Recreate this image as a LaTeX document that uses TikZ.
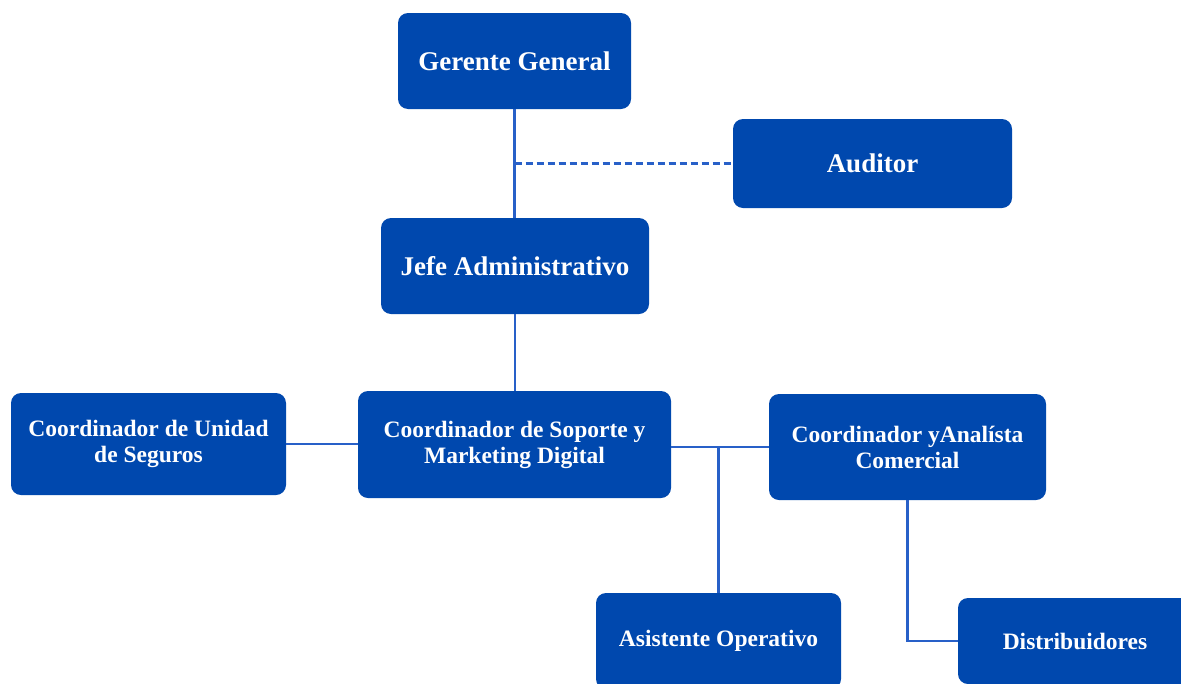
\documentclass[tikz,border=0pt]{standalone}
\usepackage{fontspec}
\setmainfont{Liberation Serif}
\definecolor{boxblue}{RGB}{0,72,174}
\definecolor{lineblue}{RGB}{40,96,200}
\begin{document}
\begin{tikzpicture}[x=1pt,y=-1pt,
  box/.style={draw=none,fill=boxblue,rounded corners=10pt,text=white,
    font=\bfseries\fontsize{23.5}{26}\selectfont,align=center,inner sep=0pt},
  bigbox/.style={box,font=\bfseries\fontsize{27}{30}\selectfont},
  link/.style={draw=lineblue,line width=2.4pt},
  dlink/.style={link,dash pattern=on 7pt off 4pt}]
\clip (0,0) rectangle (1181,683);
\fill[white] (0,0) rectangle (1181,683);
\node[bigbox,minimum width=233pt,minimum height=96pt] (gg) at (514.5,61) {Gerente General};
\node[bigbox,minimum width=279pt,minimum height=89pt] (aud) at (872.5,163.5) {Auditor};
\node[bigbox,minimum width=268pt,minimum height=96pt] (jefe) at (515,266) {Jefe Administrativo};
\node[box,minimum width=275pt,minimum height=102pt] (seg) at (148.5,444) {Coordinador de Unidad\\de Seguros};
\node[box,minimum width=313pt,minimum height=107pt] (sop) at (514.5,444.5) {Coordinador de Soporte y\\Marketing Digital};
\node[box,minimum width=277pt,minimum height=106pt] (ana) at (907.5,447) {Coordinador yAnalísta\\Comercial};
\node[box,minimum width=245pt,minimum height=96pt] (asis) at (718.5,641) {Asistente Operativo};
\node[box,minimum width=234pt,minimum height=86pt] (dist) at (1075,641) {Distribuidores};
\draw[link] (gg.south) -- (gg.south |- jefe.north);
\draw[dlink] (gg.south |- aud.west) -- (aud.west);
\draw[link] (jefe.south) -- (jefe.south |- sop.north);
\draw[link] (seg.east) -- (seg.east -| sop.west);
\draw[link] (ana.west -| sop.east) -- (ana.west);
\draw[link] (asis.north |- ana.west) -- (asis.north);
\draw[link] (ana.south) |- (dist.west);
\end{tikzpicture}
\end{document}
